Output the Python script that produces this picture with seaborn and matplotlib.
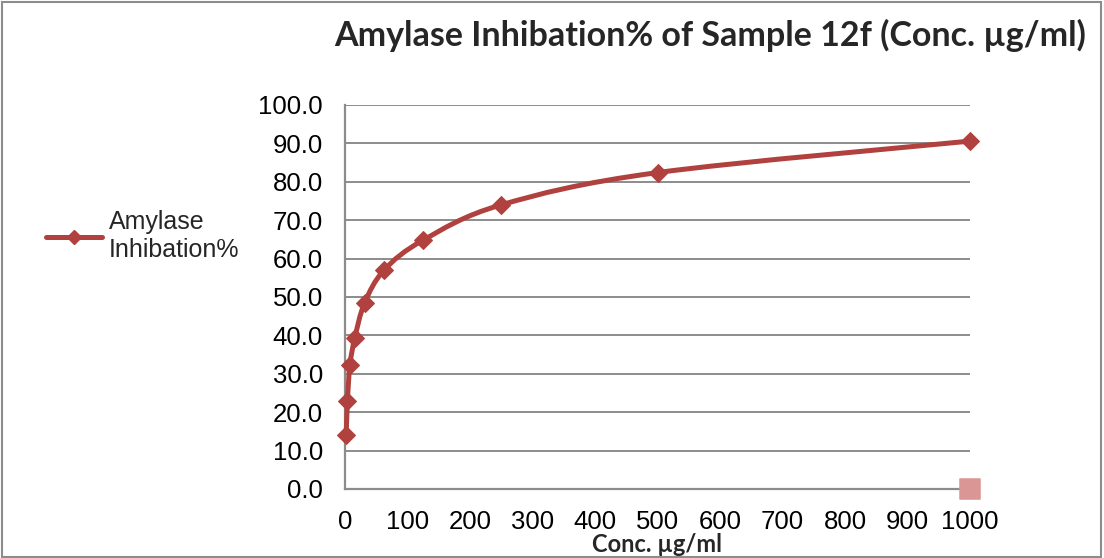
import numpy as np
import pandas as pd
import seaborn as sns
import matplotlib
matplotlib.use("Agg")
import matplotlib.pyplot as plt
from matplotlib.path import Path
from matplotlib.patches import PathPatch, Rectangle
from matplotlib.lines import Line2D

# ---- data ----
conc = [1.95, 3.9, 7.81, 15.63, 31.25, 62.5, 125, 250, 500, 1000]
inhibition = [14.1, 22.9, 32.2, 39.3, 48.4, 57.0, 64.8, 74.0, 82.4, 90.6]
extra_x = [1000]
extra_y = [0.0]
series_label = "Amylase\nInhibation%"
title = "Amylase Inhibation% of Sample 12f (Conc. \u00b5g/ml)"
xlabel = "Conc. \u00b5g/ml"
yticks = [0, 10, 20, 30, 40, 50, 60, 70, 80, 90, 100]
xticks = [0, 100, 200, 300, 400, 500, 600, 700, 800, 900, 1000]

line_color = "#B0413E"
extra_color = "#D99694"
grid_color = "#8C8C8C"

sns.set_theme(style="white")
plt.rcParams["font.family"] = ["Liberation Sans", "DejaVu Sans"]

fig = plt.figure(figsize=(11.04, 5.58), dpi=100)
ax = fig.add_axes([345 / 1104, 1 - 489 / 558, 625 / 1104, 384 / 558])

df = pd.DataFrame({"conc": conc, "inh": inhibition})

xmin, xmax, ymin, ymax = 0, 1000, 0, 100
ax.set_xlim(xmin, xmax)
ax.set_ylim(ymin, ymax)

# smooth curve (Excel-like smoothing) built in pixel-proportional space
W, H = 625.0, 384.0
px = np.array(conc) / (xmax - xmin) * W
py = np.array(inhibition) / (ymax - ymin) * H
P = np.column_stack([px, py])
n = len(P)
verts = [P[0]]
codes = [Path.MOVETO]
for i in range(n - 1):
    p0 = P[i - 1] if i > 0 else P[i]
    p1 = P[i]
    p2 = P[i + 1]
    p3 = P[i + 2] if i + 2 < n else P[i + 1]
    c1 = p1 + (p2 - p0) / 6.0
    c2 = p2 - (p3 - p1) / 6.0
    verts += [c1, c2, p2]
    codes += [Path.CURVE4] * 3
verts = np.array(verts)
verts[:, 0] = verts[:, 0] / W * (xmax - xmin)
verts[:, 1] = verts[:, 1] / H * (ymax - ymin)
patch = PathPatch(Path(verts, codes), facecolor="none", edgecolor=line_color,
                  lw=3.6, capstyle="round", joinstyle="round", zorder=3,
                  clip_on=False)
ax.add_patch(patch)

# markers via seaborn
sns.lineplot(data=df, x="conc", y="inh", ax=ax, marker="D", markersize=9,
             color=line_color, markeredgecolor=line_color, linewidth=0,
             zorder=4, clip_on=False, legend=False)
sns.scatterplot(x=extra_x, y=extra_y, ax=ax, marker="s", s=200,
                color=extra_color, edgecolor=extra_color, zorder=5,
                clip_on=False, legend=False)

# axes styling
ax.set_yticks(yticks)
ax.set_yticklabels([f"{v:.1f}" for v in yticks])
ax.set_xticks(xticks)
ax.set_xticklabels([str(v) for v in xticks])
ax.tick_params(axis="both", length=0, labelsize=18.5, colors="black")
ax.tick_params(axis="y", pad=16)
ax.tick_params(axis="x", pad=15)
ax.grid(axis="y", color=grid_color, lw=1.4)
ax.grid(axis="x", visible=False)
for s in ["top", "right"]:
    ax.spines[s].set_visible(False)
for s in ["left", "bottom"]:
    ax.spines[s].set_color(grid_color)
    ax.spines[s].set_linewidth(1.6)
ax.set_xlabel("")
ax.set_ylabel("")

fig.text(657 / 1104, 1 - 544 / 558, xlabel, ha="center", va="center",
         fontsize=17, fontweight="bold", family=["Lato", "DejaVu Sans"])
fig.text(710 / 1104, 1 - 35 / 558, title, ha="center", va="center",
         fontsize=24.5, fontweight="bold", family=["Lato", "DejaVu Sans"])

handle = Line2D([0], [0], color=line_color, lw=3.6, marker="D", markersize=7,
                markeredgecolor=line_color)
fig.legend([handle], [series_label], loc="center left",
           bbox_to_anchor=(46 / 1104, 1 - 236 / 558), frameon=False,
           borderaxespad=0, borderpad=0,
           fontsize=18, handlelength=2.25, handletextpad=0.25)

fig.patches.append(Rectangle((0.002, 0.002), 0.995, 0.995, transform=fig.transFigure,
                             fill=False, edgecolor="#8C8C8C", lw=1.5))

fig.savefig("out.png", dpi=100)
